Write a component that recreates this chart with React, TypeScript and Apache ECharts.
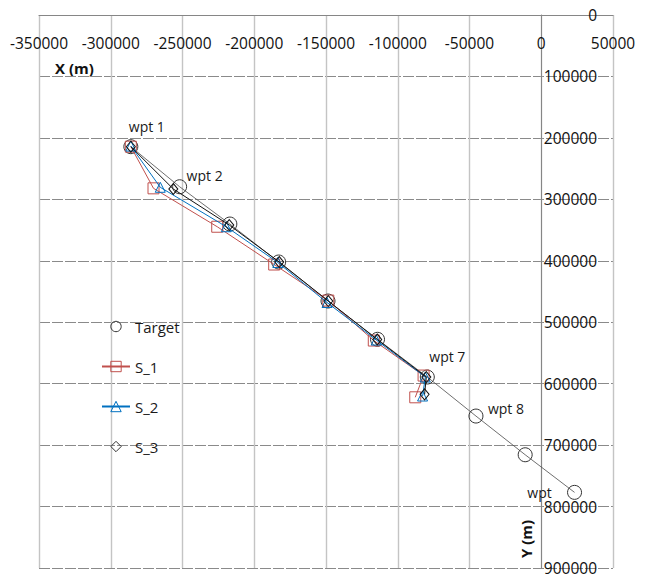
import React, { useEffect, useRef } from "react";
import * as echarts from "echarts";

// Target waypoints (m)
const targetX = [-286000, -252000, -217000, -183000, -148600, -114100, -79400, -45500, -11200, 23200];
const targetY = [214300, 279500, 340200, 402000, 465500, 527800, 589200, 652700, 715700, 776900];
const targetNames = ["wpt 1", "wpt 2", "", "", "", "", "wpt 7", "wpt 8", "", "wpt"];

const s1X = [-286000, -270200, -225800, -186100, -148400, -116700, -82000, -87800];
const s1Y = [214300, 282100, 344600, 406100, 464700, 529800, 586800, 622200];

const s2X = [-286000, -265500, -219500, -183600, -149300, -115000, -80800, -82700];
const s2Y = [213300, 280400, 344600, 402800, 467900, 529000, 589200, 620100];

const s3X = [-286000, -256400, -217400, -182600, -148400, -114300, -80100, -81300];
const s3Y = [214300, 283200, 341800, 402000, 465500, 528100, 589200, 617400];

const seriesNames = ["Target", "S_1", "S_2", "S_3"];
const xTitle = "X (m)";
const yTitle = "Y (m)";

// label offsets (style)
const labelOffsets: Record<string, [number, number]> = {
  "wpt 1": [16, -20],
  "wpt 2": [25, -11],
  "wpt 7": [20, -21],
  "wpt 8": [30, -8],
  wpt: [-35, 0],
};

const FONT = "'Open Sans', 'Liberation Sans', sans-serif";

function pairs(xs: number[], ys: number[]) {
  return xs.map((x, i) => [x, ys[i]]);
}

export default function App() {
  const ref = useRef<HTMLDivElement>(null);
  useEffect(() => {
    document.body.style.margin = "0";
    if (!ref.current) return;
    const chart = echarts.init(ref.current, undefined, { renderer: "svg" });
    const red = "#c0504d";
    const blue = "#0070c0";
    const targetData = targetX.map((x, i) => {
      const nm = targetNames[i];
      const item: any = { value: [x, targetY[i]], name: nm };
      if (nm) {
        item.label = {
          show: true,
          formatter: nm,
          position: "inside",
          offset: labelOffsets[nm],
          fontSize: 14,
          fontFamily: FONT,
          color: "#1a1a1a",
        };
      }
      return item;
    });
    chart.setOption({
      animation: false,
      backgroundColor: "#ffffff",
      textStyle: { fontFamily: FONT },
      grid: {
        left: 39,
        right: 37,
        top: 15,
        bottom: 8,
        containLabel: false,
        outerBoundsMode: "none",
      },
      legend: {
        orient: "vertical",
        left: 96,
        top: 314,
        itemWidth: 28,
        itemHeight: 13,
        itemGap: 25,
        textStyle: { fontSize: 15, color: "#1a1a1a", fontFamily: FONT },
        data: [
          {
            name: "Target",
            lineStyle: { color: "transparent", opacity: 0 },
            itemStyle: { color: "transparent", borderColor: "#333", borderWidth: 1 },
          },
          {
            name: "S_1",
            itemStyle: { color: "transparent", borderColor: red, borderWidth: 1 },
          },
          {
            name: "S_2",
            itemStyle: { color: "transparent", borderColor: blue, borderWidth: 1 },
          },
          {
            name: "S_3",
            lineStyle: { color: "transparent", opacity: 0 },
            itemStyle: { color: "transparent", borderColor: "#333", borderWidth: 1 },
          },
        ],
      },
      xAxis: {
        type: "value",
        position: "top",
        min: -350000,
        max: 50000,
        interval: 50000,
        axisLine: { show: true, onZero: false, lineStyle: { color: "#868686", width: 1 } },
        axisTick: { show: false },
        axisLabel: {
          inside: true,
          margin: 20,
          fontSize: 15.5,
          color: "#111",
          fontFamily: FONT,
          formatter: (v: number) => String(v),
        },
        splitLine: { show: true, lineStyle: { color: "#c4c4c4", width: 1.4 } },
      },
      yAxis: {
        type: "value",
        inverse: true,
        position: "right",
        min: 0,
        max: 900000,
        interval: 100000,
        axisLine: { show: true, onZero: true, lineStyle: { color: "#868686", width: 1 } },
        axisTick: { show: false },
        axisLabel: {
          margin: -16,
          align: "right",
          fontSize: 15.5,
          color: "#111",
          fontFamily: FONT,
          formatter: (v: number) => String(v),
        },
        splitLine: { show: true, lineStyle: { color: "#8a8a8a", width: 1, type: [11, 2] } },
      },
      graphic: [
        {
          type: "text",
          x: 74.5,
          y: 67.5,
          style: {
            text: xTitle,
            font: `bold 15px ${FONT}`,
            fill: "#111",
            align: "center",
            verticalAlign: "middle",
          },
        },
        {
          type: "text",
          x: 526,
          y: 539,
          rotation: Math.PI / 2,
          style: {
            text: yTitle,
            font: `bold 15px ${FONT}`,
            fill: "#111",
            align: "center",
            verticalAlign: "middle",
          },
        },
      ],
      series: [
        {
          name: seriesNames[0],
          type: "line",
          data: targetData,
          symbol: "circle",
          symbolSize: 14,
          showAllSymbol: true,
          lineStyle: { color: "#4a4a4a", width: 0.8 },
          itemStyle: { color: "transparent", borderColor: "#333", borderWidth: 1 },
          z: 2,
        },
        {
          name: seriesNames[1],
          type: "line",
          data: pairs(s1X, s1Y),
          symbol: "rect",
          symbolSize: 11,
          showAllSymbol: true,
          lineStyle: { color: red, width: 1 },
          itemStyle: { color: "transparent", borderColor: red, borderWidth: 1 },
          z: 3,
        },
        {
          name: seriesNames[2],
          type: "line",
          data: pairs(s2X, s2Y),
          symbol: "triangle",
          symbolSize: 10,
          showAllSymbol: true,
          lineStyle: { color: blue, width: 1 },
          itemStyle: { color: "transparent", borderColor: blue, borderWidth: 1 },
          z: 4,
        },
        {
          name: seriesNames[3],
          type: "line",
          data: pairs(s3X, s3Y),
          symbol: "diamond",
          symbolSize: [9, 11],
          showAllSymbol: true,
          lineStyle: { color: "#111", width: 1 },
          itemStyle: { color: "transparent", borderColor: "#111", borderWidth: 1 },
          z: 5,
        },
      ],
    });
    return () => chart.dispose();
  }, []);
  return <div ref={ref} style={{ width: 650, height: 576 }} />;
}
